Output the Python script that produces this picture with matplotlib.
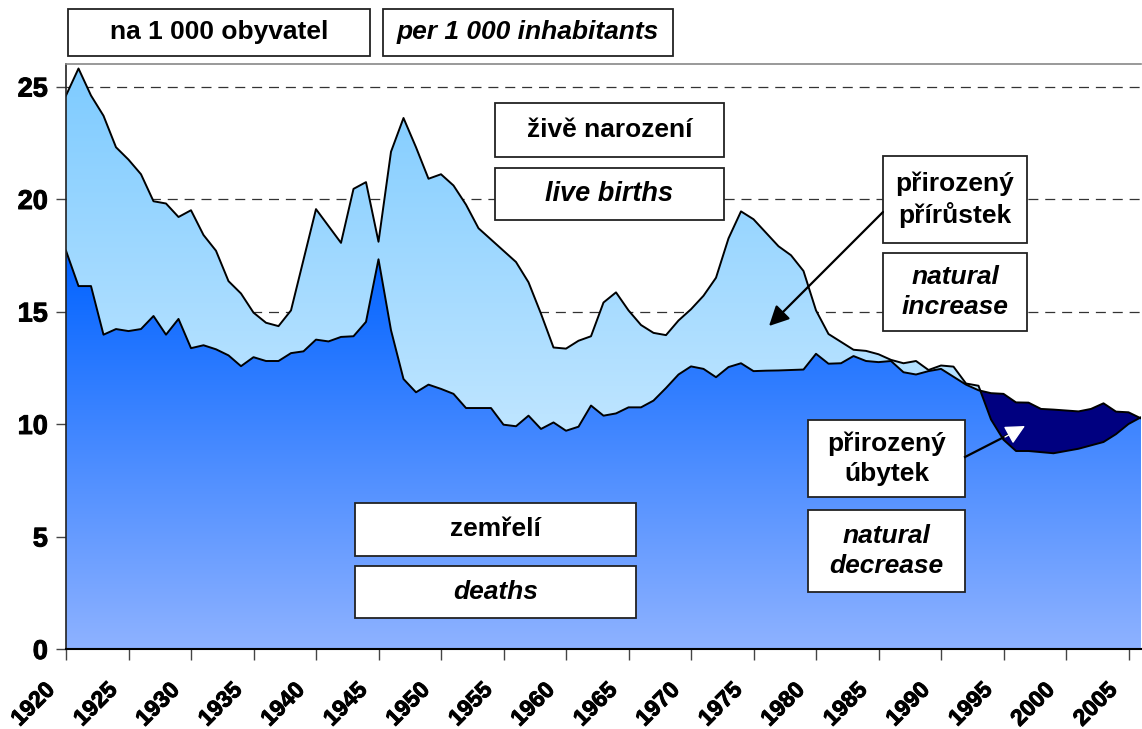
import numpy as np
import matplotlib
matplotlib.use("Agg")
import matplotlib.pyplot as plt
import matplotlib.patheffects as pe
from matplotlib.path import Path
from matplotlib.patches import Rectangle
from matplotlib.transforms import ScaledTranslation

years = list(range(1920, 2007))

births = [24.6, 25.8, 24.6, 23.7, 22.3, 21.75, 21.1, 19.9, 19.8, 19.2,
          19.5, 18.4, 17.7, 16.35, 15.8, 14.95, 14.5, 14.35, 15.05, 17.3,
          19.55, 18.8, 18.05, 20.45, 20.75, 18.1, 22.1, 23.6, 22.3, 20.9,
          21.1, 20.6, 19.75, 18.7, 18.2, 17.7, 17.2, 16.3, 14.9, 13.4,
          13.35, 13.7, 13.9, 15.4, 15.85, 15.05, 14.4, 14.05, 13.95, 14.6,
          15.1, 15.7, 16.5, 18.25, 19.45, 19.1, 18.5, 17.9, 17.5, 16.8,
          15.05, 14.0, 13.65, 13.3, 13.25, 13.1, 12.85, 12.7, 12.8, 12.4,
          12.6, 12.55, 11.8, 11.7, 10.2, 9.3, 8.8, 8.8, 8.75, 8.7,
          8.8, 8.9, 9.05, 9.2, 9.55, 10.0, 10.3]

deaths = [17.7, 16.13, 16.13, 13.97, 14.22, 14.13, 14.22, 14.8, 13.97, 14.67,
          13.37, 13.5, 13.32, 13.05, 12.57, 12.97, 12.8, 12.8, 13.15, 13.23,
          13.75, 13.67, 13.87, 13.9, 14.54, 17.32, 14.17, 12.0, 11.41, 11.75,
          11.56, 11.34, 10.71, 10.71, 10.71, 9.97, 9.9, 10.37, 9.78, 10.07,
          9.7, 9.88, 10.82, 10.37, 10.47, 10.74, 10.74, 11.04, 11.6, 12.2,
          12.56, 12.45, 12.08, 12.53, 12.7, 12.35, 12.37, 12.38, 12.4, 12.42,
          13.12, 12.68, 12.7, 13.02, 12.8, 12.75, 12.8, 12.3, 12.2, 12.35,
          12.45, 12.1, 11.75, 11.5, 11.37, 11.34, 10.96, 10.95, 10.67, 10.64,
          10.6, 10.56, 10.67, 10.92, 10.55, 10.52, 10.25]

y_ticks = [0, 5, 10, 15, 20, 25]
x_ticks = list(range(1920, 2006, 5))

W, H = 1142, 729
FONT = "Liberation Sans"

fig = plt.figure(figsize=(W / 100, H / 100), dpi=100)
ax = fig.add_axes([66 / W, 1 - 649 / H, (1141 - 66) / W, (649 - 64) / H])

x = np.array(years, dtype=float)
b = np.array(births)
d = np.array(deaths)
ytop = 26.0


def hexrgb(h):
    h = h.lstrip('#')
    return np.array([int(h[i:i + 2], 16) / 255 for i in (0, 2, 4)])


def gradient_fill(yvals, c_top, c_bot, vmax, z):
    poly = ax.fill_between(x, 0, yvals, facecolor='none', edgecolor='none', zorder=z)
    path = Path.make_compound_path(*poly.get_paths())
    n = 256
    t = np.linspace(0, 1, n)[:, None]
    ct, cb = hexrgb(c_top), hexrgb(c_bot)
    img = (cb[None, :] * (1 - t) + ct[None, :] * t)[:, None, :]
    im = ax.imshow(img, extent=[1920, 2006, 0, vmax], origin='lower',
                   aspect='auto', zorder=z, interpolation='bilinear')
    im.set_clip_path(path, transform=ax.transData)


gradient_fill(b, '#7ECBFF', '#E6F5FF', max(births), 1)
gradient_fill(d, '#0062FF', '#8EB2FF', max(deaths), 2)
ax.fill_between(x, b, d, where=d > b, interpolate=True, facecolor='#000080',
                edgecolor='none', zorder=3)
ax.plot(x, b, color='black', lw=1.4, zorder=4)
ax.plot(x, d, color='black', lw=1.4, zorder=4)

ax.set_xlim(1920, 2006)
ax.set_ylim(0, ytop)

for v in [5, 10, 15, 20, 25]:
    ax.axhline(v, color='#333333', lw=0.9, ls=(0, (8, 5.5)), zorder=0.5)

stroke = [pe.withStroke(linewidth=0.7, foreground='black')]
ax.set_yticks(y_ticks)
ax.set_yticklabels([str(v) for v in y_ticks], fontfamily=FONT,
                   fontweight='bold', fontsize=19.5)
ax.set_xticks(x_ticks)
ax.set_xticklabels([str(v) for v in x_ticks], fontfamily=FONT,
                   fontweight='bold', fontsize=16.5, rotation=45,
                   ha='right', va='center', rotation_mode='anchor')
ax.tick_params(axis='y', direction='out', length=7, width=1, pad=6, color='#444444')
ax.tick_params(axis='x', direction='out', length=8, width=1, pad=19, color='#444444')
shift = ScaledTranslation(-15 / 100, 0, fig.dpi_scale_trans)
for lab in ax.get_xticklabels():
    lab.set_transform(lab.get_transform() + shift)
    lab.set_path_effects(stroke)
for lab in ax.get_yticklabels():
    lab.set_path_effects(stroke)

ax.spines['top'].set_color('#888888')
ax.spines['top'].set_linewidth(1.2)
ax.spines['right'].set_visible(False)
ax.spines['left'].set_color('#222222')
ax.spines['left'].set_linewidth(1.2)
ax.spines['bottom'].set_color('black')
ax.spines['bottom'].set_linewidth(1.5)
for s in ax.spines.values():
    s.set_zorder(6)


def fx(px):
    return px / W


def fy(py):
    return 1 - py / H


def box(x0, y0, x1, y1, text, italic=False, size=19):
    r = Rectangle((fx(x0), fy(y1)), fx(x1) - fx(x0), fy(y0) - fy(y1),
                  transform=fig.transFigure, facecolor='white',
                  edgecolor='#222222', lw=1.3, zorder=10)
    fig.add_artist(r)
    fig.text(fx((x0 + x1) / 2), fy((y0 + y1) / 2), text, ha='center',
             va='center', fontfamily=FONT, fontweight='bold',
             fontstyle='italic' if italic else 'normal', fontsize=size,
             linespacing=1.3, zorder=11)


box(68, 9, 370, 56, "na 1 000 obyvatel")
box(383, 9, 673, 56, "per 1 000 inhabitants", italic=True)
box(495, 103, 724, 157, "živě narození")
box(495, 168, 724, 220, "live births", italic=True, size=19.5)
box(883, 156, 1027, 243, "přirozený\npřírůstek")
box(883, 253, 1027, 331, "natural\nincrease", italic=True)
box(808, 420, 965, 497, "přirozený\núbytek")
box(808, 510, 965, 592, "natural\ndecrease", italic=True)
box(355, 503, 636, 556, "zemřelí")
box(355, 566, 636, 618, "deaths", italic=True)

fig.add_artist(matplotlib.patches.FancyArrowPatch(
    (fx(883), fy(212)), (fx(769), fy(326)), transform=fig.transFigure,
    arrowstyle='-|>', mutation_scale=30, color='black', lw=1.6,
    shrinkA=0, shrinkB=0, zorder=12))
fig.add_artist(matplotlib.lines.Line2D([fx(965), fx(1008)], [fy(457), fy(435)],
                                       transform=fig.transFigure, color='black',
                                       lw=1.6, zorder=12))
fig.add_artist(matplotlib.patches.FancyArrowPatch(
    (fx(1005), fy(437)), (fx(1025), fy(426)), transform=fig.transFigure,
    arrowstyle='-|>', mutation_scale=30, color='white', lw=1.0,
    shrinkA=0, shrinkB=0, zorder=12))

fig.savefig("out.png", dpi=100)
